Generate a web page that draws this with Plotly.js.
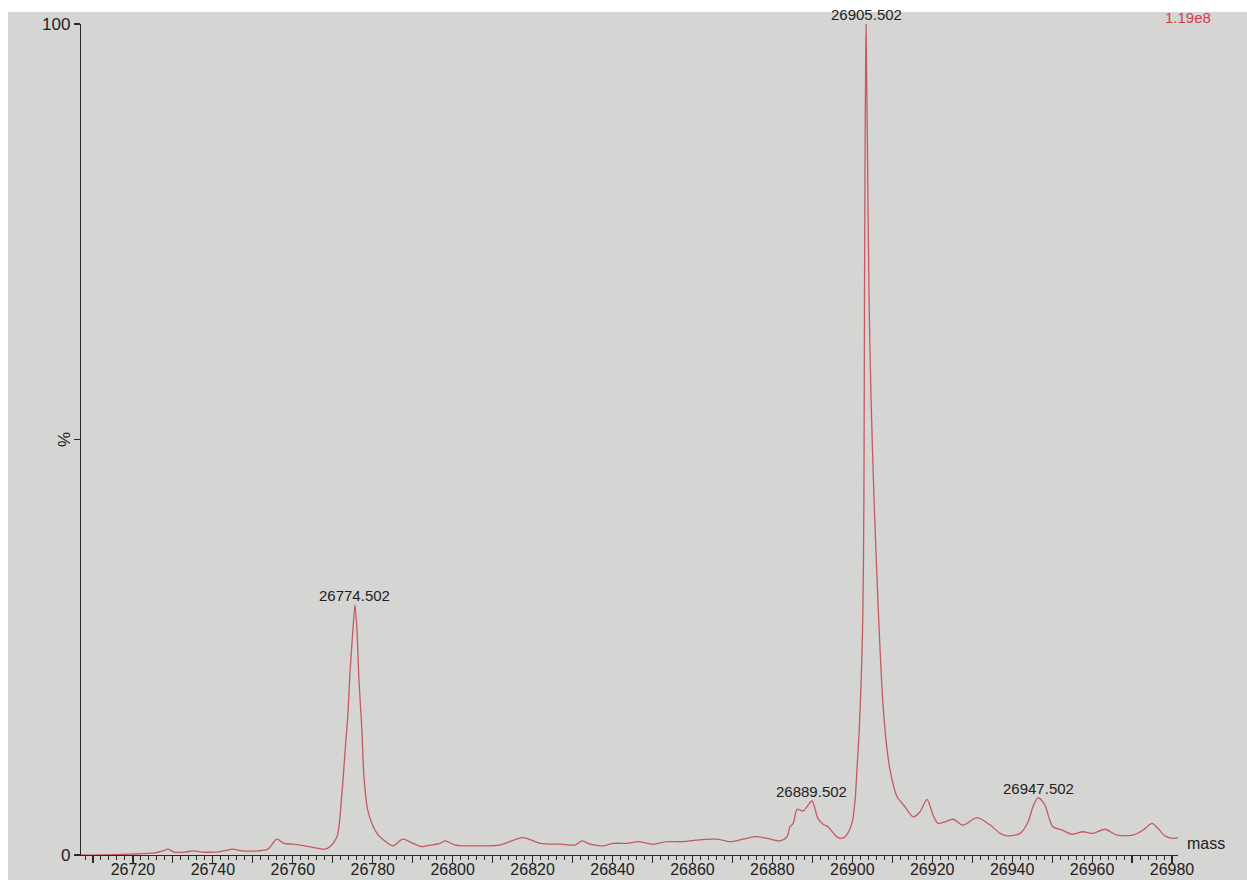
<!DOCTYPE html>
<html>
<head>
<meta charset="utf-8">
<script src="https://cdn.plot.ly/plotly-3.0.1.min.js"></script>
<style>html,body{margin:0;padding:0;background:#d6d6d4;}#chart{width:1247px;height:880px;}</style>
</head>
<body>
<div id="chart"></div>
<script>
// Spectrum (mass vs relative intensity %)
const mass = [
26707.0, 26711.7, 26719.3, 26725.5, 26727.5, 26728.8, 26730.3, 26733.0, 26735.0, 26737.3,
26741.8, 26745.0, 26747.3, 26751.3, 26753.8, 26756.0, 26757.8, 26760.0, 26763.0, 26766.3,
26768.0, 26769.3, 26771.05, 26772.3, 26773.05, 26773.8, 26774.3, 26775.05, 26775.55, 26776.05,
26776.55, 26777.3, 26777.8, 26778.8, 26781.05, 26783.55, 26785.05, 26787.55, 26790.05, 26792.3,
26793.55, 26796.8, 26798.1, 26800.6, 26806.8, 26811.8, 26817.6, 26821.85, 26826.9, 26830.6,
26832.4, 26834.4, 26837.6, 26840.1, 26843.6, 26846.4, 26850.1, 26853.6, 26857.6, 26861.1,
26866.1, 26869.4, 26872.65, 26875.7, 26878.7, 26881.9, 26883.7, 26884.4, 26885.2, 26886.2,
26887.7, 26889.9, 26891.4, 26892.7, 26893.9, 26895.7, 26896.9, 26898.2, 26899.9, 26900.7,
26901.2, 26901.7, 26902.2, 26902.55, 26902.8, 26902.95, 26903.05, 26903.2, 26903.35, 26903.45,
26903.55, 26903.8, 26904.2, 26904.7, 26905.45, 26906.3, 26906.95, 26907.6, 26908.45, 26909.45,
26911.2, 26913.2, 26915.2, 26916.95, 26918.7, 26920.2, 26921.45, 26923.2, 26925.2, 26927.7,
26931.2, 26934.5, 26937.0, 26938.7, 26942.0, 26944.0, 26945.2, 26946.5, 26948.2, 26949.2,
26950.2, 26952.5, 26955.0, 26957.7, 26960.2, 26963.2, 26966.25, 26970.25, 26972.75, 26975.0,
26976.5, 26978.25, 26980.25, 26981.5
];
const intensity = [
0.0, 0.0, 0.1, 0.25, 0.5, 0.7, 0.35, 0.35, 0.5, 0.35,
0.4, 0.7, 0.5, 0.5, 0.7, 1.9, 1.4, 1.3, 1.1, 0.8,
0.7, 1.0, 2.2, 7.5, 12.3, 17.1, 21.9, 27.1, 30.1, 27.1,
21.1, 15.0, 9.5, 5.3, 2.6, 1.5, 1.1, 1.9, 1.4, 1.0,
1.1, 1.4, 1.7, 1.2, 1.1, 1.2, 2.1, 1.4, 1.3, 1.2,
1.7, 1.3, 1.1, 1.4, 1.4, 1.6, 1.3, 1.6, 1.6, 1.8,
1.9, 1.6, 1.9, 2.2, 2.0, 1.7, 2.2, 3.4, 3.8, 5.5,
5.3, 6.5, 4.4, 3.7, 3.4, 2.4, 2.0, 2.2, 3.8, 6.6,
10.6, 14.7, 20.7, 26.7, 35.5, 48.7, 66.8, 84.8, 95.6, 100.0,
95.6, 84.8, 66.8, 54.8, 42.7, 31.9, 24.7, 18.7, 13.8, 10.2,
7.0, 5.8, 4.6, 5.2, 6.7, 4.8, 3.8, 4.0, 4.3, 3.6,
4.5, 3.6, 2.6, 2.3, 2.6, 4.0, 5.8, 6.9, 6.0, 4.5,
3.4, 3.0, 2.5, 2.8, 2.6, 3.1, 2.4, 2.4, 3.0, 3.8,
3.2, 2.3, 2.0, 2.1
];

// Labelled peaks
const peakMass = [26903.45, 26775.55, 26889.9, 26946.5];
const peakHeight = [100.0, 30.1, 6.5, 6.9];
const peakLabel = ["26905.502", "26774.502", "26889.502", "26947.502"];

// Axis ticks
const xTick0 = 26700, xMajorStep = 10, xLabelEvery = 2, xMinorStep = 2;
const yTickVals = [0, 50, 100];
const yTickText = ["0", "", "100"];

const FONT = "Liberation Sans, Arial, Helvetica, sans-serif";
const BG = "#d5d5d3";
const INK = "#222222";
const LINE = "#c55a62";
const XRANGE = [26707.0, 26981.5];

const trace = {
  x: mass, y: intensity, type: "scatter", mode: "lines",
  line: {color: LINE, width: 1.3, shape: "spline", smoothing: 0.8},
  hoverinfo: "x+y", cliponaxis: false
};
// empty trace only to host the minor-tick axis
const tickHost = {x: [], y: [], type: "scatter", mode: "lines", xaxis: "x2", yaxis: "y", hoverinfo: "skip"};

const annotations = peakLabel.map((t, i) => ({
  x: peakMass[i], y: peakHeight[i], xref: "x", yref: "y",
  text: t, showarrow: false, xanchor: "center", yanchor: "bottom", yshift: -1,
  font: {family: FONT, size: 15, color: INK}
}));
annotations.push({
  x: 0, xref: "paper", y: 50, yref: "y", text: "%", textangle: -90,
  showarrow: false, xanchor: "right", yanchor: "middle", xshift: -5,
  font: {family: FONT, size: 17, color: INK}
});
annotations.push({
  x: 1, xref: "paper", y: 0, yref: "y", text: "mass",
  showarrow: false, xanchor: "left", yanchor: "middle", xshift: 7, yshift: 12,
  font: {family: FONT, size: 16, color: INK}
});
annotations.push({
  x: 1, xref: "paper", y: 1, yref: "paper", text: "1.19e8",
  showarrow: false, xanchor: "center", yanchor: "middle", xshift: 10, yshift: 7,
  font: {family: FONT, size: 15, color: "#d0404c"}
});

const layout = {
  width: 1247, height: 880,
  margin: {l: 81, r: 69, t: 24, b: 25, pad: 0},
  paper_bgcolor: BG, plot_bgcolor: BG,
  showlegend: false,
  font: {family: FONT, color: INK},
  xaxis: {
    range: XRANGE, showgrid: false, zeroline: false,
    showline: true, linecolor: "#2a2a2a", linewidth: 1.2,
    ticks: "outside", ticklen: 7, tickwidth: 1.1, tickcolor: "#2a2a2a",
    tickmode: "linear", tick0: xTick0, dtick: xMajorStep, ticklabelstep: xLabelEvery,
    tickformat: "d",
    ticklabelstandoff: -7,
    tickfont: {family: FONT, size: 16, color: INK},
    fixedrange: true
  },
  xaxis2: {
    overlaying: "x", anchor: "y", side: "bottom",
    range: XRANGE, showgrid: false, zeroline: false, showline: false,
    ticks: "outside", ticklen: 4, tickwidth: 1, tickcolor: "#2a2a2a",
    tickmode: "linear", tick0: xTick0, dtick: xMinorStep,
    showticklabels: false, fixedrange: true
  },
  yaxis: {
    range: [0, 100], showgrid: false, zeroline: false,
    showline: true, linecolor: "#2a2a2a", linewidth: 1.2,
    ticks: "outside", ticklen: 6, tickwidth: 1.1, tickcolor: "#2a2a2a",
    tickmode: "array", tickvals: yTickVals, ticktext: yTickText,
    tickfont: {family: FONT, size: 17, color: INK},
    fixedrange: true
  },
  annotations: annotations,
  shapes: [
    {type: "rect", xref: "paper", yref: "paper", x0: -0.08, x1: 1.07, y0: 1.0144, y1: 1.035,
     fillcolor: "#ffffff", line: {width: 0}, layer: "below"},
    {type: "rect", xref: "paper", yref: "paper", x0: -0.08, x1: -0.0666, y0: -0.035, y1: 1.035,
     fillcolor: "#ffffff", line: {width: 0}, layer: "below"}
  ]
};

Plotly.newPlot("chart", [trace, tickHost], layout, {displayModeBar: false, staticPlot: true});
</script>
</body>
</html>
